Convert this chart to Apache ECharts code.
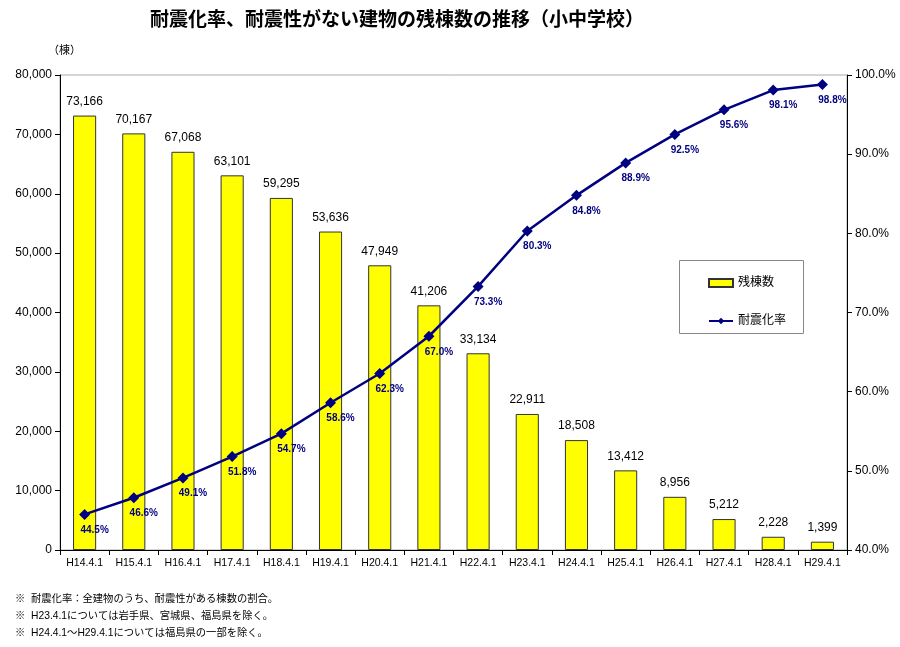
<!DOCTYPE html>
<html>
<head>
<meta charset="utf-8">
<script src="https://cdn.jsdelivr.net/npm/echarts@6/dist/echarts.min.js"></script>
<style>
html, body { margin: 0; padding: 0; background: #fff; }
#main { width: 900px; height: 647px; }
</style>
</head>
<body>
<div id="main"></div>
<script>
// 年度
var years = ['H14.4.1', 'H15.4.1', 'H16.4.1', 'H17.4.1', 'H18.4.1', 'H19.4.1', 'H20.4.1', 'H21.4.1',
    'H22.4.1', 'H23.4.1', 'H24.4.1', 'H25.4.1', 'H26.4.1', 'H27.4.1', 'H28.4.1', 'H29.4.1'];
// 残棟数
var remaining = [73166, 70167, 67068, 63101, 59295, 53636, 47949, 41206, 33134, 22911, 18508, 13412, 8956, 5212, 2228, 1399];
// 耐震化率 (%)
var rate = [44.5, 46.6, 49.1, 51.8, 54.7, 58.6, 62.3, 67.0, 73.3, 80.3, 84.8, 88.9, 92.5, 95.6, 98.1, 98.8];

var notes = [
    '※  耐震化率：全建物のうち、耐震性がある棟数の割合。',
    '※  H23.4.1については岩手県、宮城県、福島県を除く。',
    '※  H24.4.1～H29.4.1については福島県の一部を除く。'
];

var font = '"Liberation Sans", "Noto Sans CJK JP", sans-serif';

var chart = echarts.init(document.getElementById('main'));
var option = {
    backgroundColor: '#fff',
    textStyle: { fontFamily: font },
    title: {
        text: '耐震化率、耐震性がない建物の残棟数の推移（小中学校）',
        left: 392, top: 6, textAlign: 'center',
        textStyle: { fontSize: 19, fontWeight: 'bold', color: '#000', fontFamily: font }
    },
    graphic: [
        { type: 'text', left: 48, top: 45, style: { text: '（棟）', font: '11px ' + font, fill: '#000' } },
        { type: 'text', left: 15, top: 594, style: { text: notes[0], font: '10.3px ' + font, fill: '#000' } },
        { type: 'text', left: 15, top: 611, style: { text: notes[1], font: '10.3px ' + font, fill: '#000' } },
        { type: 'text', left: 15, top: 628, style: { text: notes[2], font: '10.3px ' + font, fill: '#000' } },
        { type: 'rect', left: 679, top: 260, shape: { width: 124, height: 73 },
          style: { fill: '#fff', stroke: '#888', lineWidth: 1 }, z: 10 }
    ],
    legend: {
        orient: 'vertical', left: 703, top: 272, itemGap: 26, z: 20,
        itemWidth: 24, itemHeight: 8,
        textStyle: { fontSize: 12, color: '#000', fontFamily: font },
        data: [
            { name: '残棟数', icon: 'rect' },
            { name: '耐震化率' }
        ]
    },
    grid: { left: 60, right: 53, top: 75, bottom: 97, show: true, borderColor: '#aaa', borderWidth: 1 },
    xAxis: {
        type: 'category', data: years,
        axisLine: { lineStyle: { color: '#000' } },
        axisTick: { show: true, alignWithLabel: false, lineStyle: { color: '#000' } },
        axisLabel: { fontSize: 10.5, color: '#000', margin: 8, interval: 0 }
    },
    yAxis: [
        {
            type: 'value', min: 0, max: 80000, interval: 10000,
            axisLine: { show: true, lineStyle: { color: '#000' } },
            axisTick: { show: true, inside: false, lineStyle: { color: '#000' } },
            splitLine: { show: false },
            axisLabel: { fontSize: 12, color: '#000', formatter: function (v) { return v.toLocaleString('en-US'); } }
        },
        {
            type: 'value', min: 40, max: 100, interval: 10,
            axisLine: { show: true, lineStyle: { color: '#000' } },
            axisTick: { show: true, lineStyle: { color: '#000' } },
            splitLine: { show: false },
            axisLabel: { fontSize: 12, color: '#000', formatter: function (v) { return v.toFixed(1) + '%'; } }
        }
    ],
    series: [
        {
            name: '残棟数', type: 'bar', data: remaining, barWidth: '47%',
            itemStyle: { color: '#ffff00', borderColor: '#333', borderWidth: 1 },
            label: {
                show: true, position: 'top', distance: 8, fontSize: 12, color: '#000',
                formatter: function (p) { return p.value.toLocaleString('en-US'); }
            }
        },
        {
            name: '耐震化率', type: 'line', yAxisIndex: 1, data: rate,
            symbol: 'diamond', symbolSize: 11,
            lineStyle: { color: '#000080', width: 2.5 },
            itemStyle: { color: '#000080' },
            label: {
                show: true, position: 'bottom', distance: 5, offset: [10, 0],
                fontSize: 10, fontWeight: 'bold', color: '#000080',
                formatter: function (p) { return p.value.toFixed(1) + '%'; }
            },
            z: 5
        }
    ]
};
chart.setOption(option);
</script>
</body>
</html>
